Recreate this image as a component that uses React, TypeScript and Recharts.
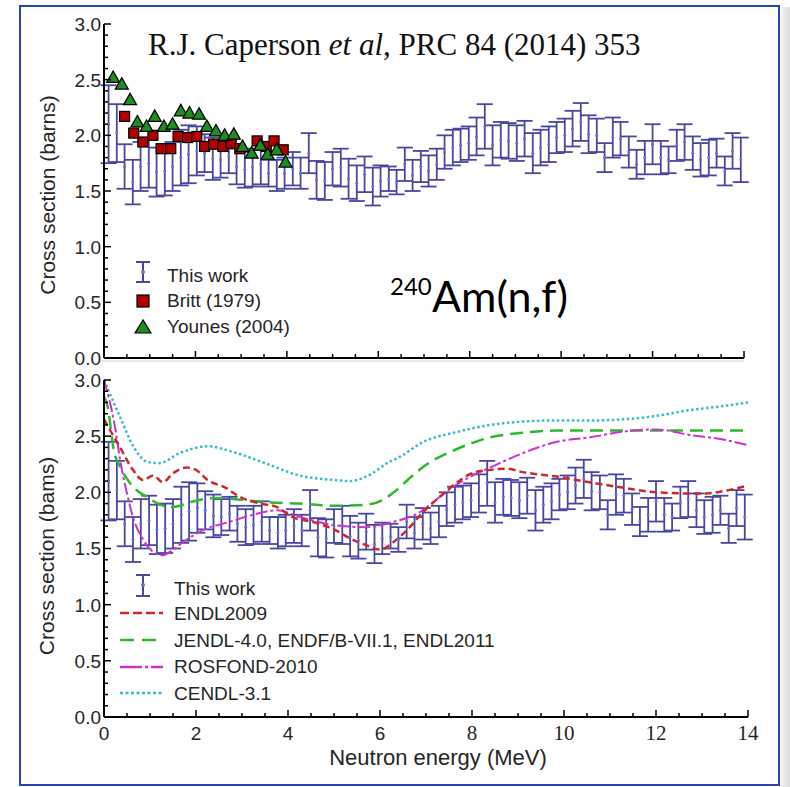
import { ComposedChart, ErrorBar, Line, Scatter, XAxis, YAxis } from "recharts";

// 240Am(n,f) cross section, this measurement (energy in MeV, sigma and 1-sigma error in barns)
const energy = [
    0.10, 0.28, 0.45, 0.63, 0.80, 0.98, 1.15, 1.33, 1.50, 1.68,
    1.85, 2.03, 2.20, 2.38, 2.55, 2.73, 2.90, 3.08, 3.25, 3.43,
    3.60, 3.78, 3.95, 4.13, 4.30, 4.48, 4.65, 4.83, 5.00, 5.18,
    5.35, 5.53, 5.70, 5.88, 6.05, 6.23, 6.40, 6.58, 6.75, 6.93,
    7.10, 7.28, 7.45, 7.63, 7.80, 7.98, 8.15, 8.33, 8.50, 8.68,
    8.85, 9.03, 9.20, 9.38, 9.55, 9.73, 9.90, 10.08, 10.25, 10.43,
    10.60, 10.78, 10.95, 11.13, 11.30, 11.48, 11.65, 11.83, 12.00, 12.18,
    12.35, 12.53, 12.70, 12.88, 13.05, 13.23, 13.40, 13.58, 13.75, 13.93,
];
const sigma = [
    2.10, 2.02, 1.72, 1.58, 1.72, 1.75, 1.67, 1.68, 1.72, 1.80,
    1.83, 1.86, 1.84, 1.79, 1.78, 1.81, 1.72, 1.69, 1.71, 1.74,
    1.66, 1.64, 1.66, 1.70, 1.66, 1.84, 1.60, 1.59, 1.70, 1.71,
    1.61, 1.57, 1.65, 1.54, 1.59, 1.61, 1.58, 1.74, 1.64, 1.72,
    1.68, 1.74, 1.85, 1.89, 1.91, 1.93, 1.99, 2.08, 1.91, 1.96,
    1.95, 1.93, 1.97, 1.84, 1.89, 1.92, 1.98, 2.00, 2.06, 2.12,
    2.01, 2.00, 1.80, 1.98, 1.97, 1.85, 1.74, 1.80, 1.92, 1.80,
    1.78, 1.91, 1.94, 1.84, 1.78, 1.80, 1.84, 1.68, 1.86, 1.78,
];
const sigmaErr = [
    0.35, 0.26, 0.20, 0.20, 0.22, 0.22, 0.22, 0.22, 0.22, 0.25,
    0.26, 0.22, 0.17, 0.19, 0.16, 0.15, 0.16, 0.16, 0.17, 0.18,
    0.12, 0.14, 0.14, 0.15, 0.14, 0.18, 0.17, 0.17, 0.15, 0.17,
    0.18, 0.16, 0.16, 0.17, 0.14, 0.11, 0.11, 0.15, 0.14, 0.14,
    0.14, 0.14, 0.15, 0.16, 0.15, 0.15, 0.17, 0.20, 0.18, 0.16,
    0.16, 0.16, 0.16, 0.18, 0.16, 0.16, 0.14, 0.15, 0.16, 0.17,
    0.17, 0.15, 0.13, 0.18, 0.15, 0.14, 0.13, 0.15, 0.18, 0.15,
    0.12, 0.14, 0.16, 0.15, 0.15, 0.16, 0.13, 0.13, 0.16, 0.20,
];

// Britt (1979)
const brittE = [0.45, 0.65, 0.85, 1.07, 1.25, 1.46, 1.62, 1.83, 2.03, 2.20, 2.40, 2.60, 2.78, 2.97, 3.35, 3.55, 3.72, 3.92];
const brittV = [2.17, 2.02, 1.94, 2.00, 1.88, 1.88, 1.99, 1.98, 1.99, 1.90, 1.92, 1.90, 1.93, 1.88, 1.95, 1.90, 1.95, 1.87];

// Younes (2004)
const younesE = [0.20, 0.39, 0.57, 0.73, 0.93, 1.11, 1.31, 1.50, 1.68, 1.87, 2.08, 2.25, 2.45, 2.64, 2.84, 3.03, 3.23, 3.42, 3.58, 3.78, 3.97];
const younesV = [2.52, 2.46, 2.32, 2.12, 2.08, 2.17, 2.08, 2.10, 2.22, 2.20, 2.19, 2.08, 2.04, 2.00, 2.01, 1.90, 1.84, 1.91, 1.83, 1.87, 1.76];

// evaluated libraries
const endlE = [0, 0.15, 0.35, 0.63, 0.85, 1.07, 1.28, 1.5, 1.8, 2.0, 2.25, 2.65, 2.95, 3.4, 3.75, 4.1, 4.6, 5.0, 5.35, 5.7, 6.0, 6.3, 6.6, 6.95, 7.3, 7.65, 8.0, 8.4, 8.75, 9.1, 9.85, 10.55, 11.3, 12.0, 12.75, 13.1, 13.45, 14.0];
const endlV = [2.65, 2.54, 2.40, 2.20, 2.11, 2.15, 2.09, 2.17, 2.22, 2.20, 2.11, 2.04, 1.96, 1.90, 1.87, 1.78, 1.73, 1.67, 1.59, 1.53, 1.49, 1.56, 1.67, 1.83, 1.96, 2.08, 2.17, 2.20, 2.21, 2.18, 2.14, 2.09, 2.04, 2.00, 1.99, 1.99, 2.01, 2.06];

const jendlE = [0, 0.07, 0.22, 0.35, 0.63, 0.93, 1.22, 1.5, 1.95, 2.4, 2.8, 3.55, 4.25, 5.0, 5.7, 6.05, 6.3, 6.6, 6.95, 7.7, 8.4, 9.1, 9.85, 10.6, 12.0, 14.0];
const jendlV = [2.85, 2.78, 2.36, 2.23, 2.05, 1.96, 1.89, 1.87, 1.92, 1.95, 1.94, 1.91, 1.90, 1.88, 1.89, 1.93, 2.00, 2.11, 2.23, 2.39, 2.49, 2.53, 2.55, 2.55, 2.55, 2.55];

const rosfondE = [0, 0.24, 0.35, 0.5, 0.63, 0.85, 1.07, 1.28, 1.5, 1.8, 2.24, 2.67, 3.24, 3.76, 4.26, 4.98, 5.72, 6.22, 6.93, 7.3, 7.67, 8.02, 8.39, 9.11, 9.85, 10.57, 11.28, 12.02, 12.74, 13.46, 14.0];
const rosfondV = [3.0, 2.58, 2.29, 1.99, 1.78, 1.58, 1.47, 1.44, 1.49, 1.58, 1.68, 1.73, 1.80, 1.84, 1.78, 1.71, 1.69, 1.73, 1.84, 1.96, 2.07, 2.15, 2.22, 2.35, 2.45, 2.49, 2.54, 2.56, 2.51, 2.47, 2.42];

const cendlE = [0, 0.35, 0.65, 0.95, 1.2, 1.65, 2.25, 2.8, 3.5, 4.25, 5.0, 5.35, 5.7, 6.2, 6.45, 6.9, 7.7, 8.4, 9.1, 9.8, 10.6, 11.3, 12.0, 12.7, 13.5, 14.0];
const cendlV = [3.0, 2.67, 2.40, 2.27, 2.26, 2.35, 2.41, 2.36, 2.26, 2.15, 2.11, 2.10, 2.14, 2.27, 2.32, 2.44, 2.54, 2.60, 2.63, 2.64, 2.64, 2.65, 2.68, 2.73, 2.77, 2.80];

const yTicks = [
    0, 0.1, 0.2, 0.3, 0.4, 0.5, 0.6, 0.7, 0.8, 0.9, 1.0, 1.1, 1.2, 1.3, 1.4, 1.5,
    1.6, 1.7, 1.8, 1.9, 2.0, 2.1, 2.2, 2.3, 2.4, 2.5, 2.6, 2.7, 2.8, 2.9, 3.0,
];
const xTicks = [
    0, 0.5, 1, 1.5, 2, 2.5, 3, 3.5, 4, 4.5, 5, 5.5, 6, 6.5, 7, 7.5, 8, 8.5, 9, 9.5,
    10, 10.5, 11, 11.5, 12, 12.5, 13, 13.5, 14,
];

const SANS = "'Liberation Sans', Arial, sans-serif";
const SERIF = "'Liberation Serif', 'Times New Roman', serif";
const TEXT = "#262626";
const BAR = "#4848a2";

const pairs = (es: number[], vs: number[]) => es.map((e, i) => ({ e, v: vs[i] }));
const thisWork = energy.map((e, i) => ({ e, v: sigma[i], err: sigmaErr[i] }));
const britt = pairs(brittE, brittV);
const younes = pairs(younesE, younesV);
const endl = pairs(endlE, endlV);
const jendl = pairs(jendlE, jendlV);
const rosfond = pairs(rosfondE, rosfondV);
const cendl = pairs(cendlE, cendlV);

const isMajor = (v: number, step: number) => Math.abs(v / step - Math.round(v / step)) < 1e-6;

// ticks point into the plot, Mathematica style
function YTick({ x, y, payload }: any) {
    const v = payload.value;
    const major = isMajor(v, 0.5);
    return (
        <g>
            <line x1={x} x2={x + (major ? 7 : 4)} y1={y} y2={y} stroke="#000" strokeWidth={1.5} />
            {major && (
                <text x={x - 3} y={y} dy="0.36em" textAnchor="end" fontSize={19} fontFamily={SANS} fill={TEXT}>
                    {v.toFixed(1)}
                </text>
            )}
        </g>
    );
}

function XTick({ x, y, payload, showLabels }: any) {
    const v = payload.value;
    const major = isMajor(v, 2);
    const serif = v >= 8;
    return (
        <g>
            <line x1={x} x2={x} y1={y} y2={y - (major ? 7 : 4)} stroke="#000" strokeWidth={1.5} />
            {major && showLabels && (
                <text x={x} y={y + 23} textAnchor="middle" fontSize={serif ? 21 : 19} fontFamily={serif ? SERIF : SANS} fill={TEXT}>
                    {v}
                </text>
            )}
        </g>
    );
}

const Dot = ({ cx, cy }: any) => <circle cx={cx} cy={cy} r={1.5} fill="#7070bc" />;
const Square = ({ cx, cy }: any) => <rect x={cx - 5} y={cy - 5} width={10} height={10} fill="#b00000" stroke="#000" strokeWidth={1.2} />;
const Triangle = ({ cx, cy }: any) => (
    <polygon points={`${cx},${cy - 6.5} ${cx - 6.5},${cy + 5} ${cx + 6.5},${cy + 5}`} fill="#1e8c1e" stroke="#000" strokeWidth={1.2} />
);

const axisLine = { stroke: "#000", strokeWidth: 2 };

export default function App() {
    const xAxisProps = {
        type: "number" as const,
        dataKey: "e",
        domain: [0, 14],
        ticks: xTicks,
        interval: 0 as const,
        tickSize: 0,
        tickMargin: 0,
        tickLine: false,
        axisLine,
        allowDataOverflow: true,
    };
    const yAxisProps = {
        type: "number" as const,
        dataKey: "v",
        domain: [0, 3],
        ticks: yTicks,
        interval: 0 as const,
        tickSize: 0,
        tickMargin: 0,
        tickLine: false,
        axisLine,
        width: 104,
        allowDataOverflow: true,
        tick: <YTick />,
    };

    return (
        <div style={{ position: "absolute", left: 0, top: 0, width: 790, height: 787, background: "#fff", overflow: "hidden" }}>
            {/* page frame */}
            <div style={{ position: "absolute", left: 19, top: 5, width: 761, height: 781, border: "2px solid #2444b8", boxSizing: "border-box" }} />
            <div style={{ position: "absolute", left: 781, top: 7, width: 9, height: 780, background: "linear-gradient(to right, #f4f4f4, #dcdcdc)" }} />

            {/* upper panel: measurement vs earlier data */}
            <div style={{ position: "absolute", left: 0, top: 0 }}>
                <ComposedChart width={790} height={400} margin={{ top: 24, right: 46, bottom: 12, left: 0 }}>
                    <XAxis {...xAxisProps} height={30} tick={<XTick showLabels={false} />} />
                    <YAxis {...yAxisProps} />
                    <Scatter data={thisWork} fill={BAR} shape={<Dot />} isAnimationActive={false}>
                        <ErrorBar dataKey="err" direction="y" width={8} stroke={BAR} strokeWidth={1.8} />
                    </Scatter>
                    <Scatter data={britt} shape={<Square />} isAnimationActive={false} />
                    <Scatter data={younes} shape={<Triangle />} isAnimationActive={false} />
                </ComposedChart>
            </div>

            {/* lower panel: measurement vs evaluations */}
            <div style={{ position: "absolute", left: 0, top: 360 }}>
                <ComposedChart width={790} height={420} margin={{ top: 20, right: 42, bottom: 23, left: 0 }}>
                    <XAxis {...xAxisProps} height={40} tick={<XTick showLabels={true} />} />
                    <YAxis {...yAxisProps} />
                    <Scatter data={thisWork} fill={BAR} shape={<Dot />} isAnimationActive={false}>
                        <ErrorBar dataKey="err" direction="y" width={8} stroke={BAR} strokeWidth={1.8} />
                    </Scatter>
                    <Line data={cendl} dataKey="v" type="monotone" stroke="#3cbcc6" strokeWidth={2.5} strokeDasharray="2.5 2.5" dot={false} isAnimationActive={false} />
                    <Line data={jendl} dataKey="v" type="monotone" stroke="#2db82d" strokeWidth={2.5} strokeDasharray="13 7" dot={false} isAnimationActive={false} />
                    <Line data={rosfond} dataKey="v" type="monotone" stroke="#cc33cc" strokeWidth={2} strokeDasharray="12 3 3 3" dot={false} isAnimationActive={false} />
                    <Line data={endl} dataKey="v" type="monotone" stroke="#cc2a2a" strokeWidth={2.5} strokeDasharray="7 4" dot={false} isAnimationActive={false} />
                </ComposedChart>
            </div>

            {/* titles, axis titles and legends */}
            <svg width={790} height={787} style={{ position: "absolute", left: 0, top: 0, pointerEvents: "none" }}>
                <line x1={100} x2={744} y1={361} y2={361} stroke="#d4d4d4" strokeWidth={1} />

                <text x={148} y={55} fontFamily={SERIF} fontSize={31} fill="#111">
                    R.J. Caperson <tspan fontStyle="italic">et al</tspan>, PRC 84 (2014) 353
                </text>

                <text x={390} y={295} fontFamily="Lato, 'Noto Sans', sans-serif" fontSize={24} fill="#000">240</text>
                <text x={432} y={312} fontFamily="Lato, 'Noto Sans', sans-serif" fontSize={43} fill="#000">Am(n,f)</text>

                <text transform="translate(55,195) rotate(-90)" textAnchor="middle" fontFamily={SANS} fontSize={21} fill={TEXT}>
                    Cross section (barns)
                </text>
                <text transform="translate(54,556) rotate(-90)" textAnchor="middle" fontFamily={SANS} fontSize={21} fill={TEXT}>
                    Cross section (bams)
                </text>
                <text x={438} y={765} textAnchor="middle" fontFamily={SANS} fontSize={22} fill={TEXT}>
                    Neutron energy (MeV)
                </text>

                {/* upper legend */}
                <g stroke={BAR} strokeWidth={2}>
                    <line x1={143} x2={143} y1={262} y2={282} />
                    <line x1={136} x2={150} y1={262} y2={262} />
                    <line x1={136} x2={150} y1={282} y2={282} />
                </g>
                <circle cx={143} cy={272} r={2} fill="#7070bc" />
                <rect x={137} y={295} width={12} height={12} fill="#b00000" stroke="#000" strokeWidth={1.2} />
                <polygon points="143,320 135,333 151,333" fill="#1e8c1e" stroke="#000" strokeWidth={1.2} />
                <g fontFamily={SANS} fontSize={19} fill={TEXT}>
                    <text x={167} y={282}>This work</text>
                    <text x={167} y={307}>Britt (1979)</text>
                    <text x={167} y={333}>Younes (2004)</text>
                </g>

                {/* lower legend */}
                <g stroke={BAR} strokeWidth={2}>
                    <line x1={143} x2={143} y1={575} y2={596} />
                    <line x1={136} x2={150} y1={575} y2={575} />
                    <line x1={136} x2={150} y1={596} y2={596} />
                </g>
                <circle cx={143} cy={585} r={2} fill="#7070bc" />
                <line x1={120} x2={163} y1={613} y2={613} stroke="#cc2a2a" strokeWidth={2.5} strokeDasharray="9 4" />
                <line x1={120} x2={163} y1={640} y2={640} stroke="#2db82d" strokeWidth={2.5} strokeDasharray="14 8" />
                <line x1={120} x2={163} y1={667} y2={667} stroke="#cc33cc" strokeWidth={2.5} strokeDasharray="22 3 3 3" />
                <line x1={120} x2={163} y1={693} y2={693} stroke="#3cbcc6" strokeWidth={2.5} strokeDasharray="3 2.5" />
                <g fontFamily={SANS} fontSize={19} fill={TEXT}>
                    <text x={174} y={595}>This work</text>
                    <text x={174} y={620}>ENDL2009</text>
                    <text x={174} y={647}>JENDL-4.0, ENDF/B-VII.1, ENDL2011</text>
                    <text x={174} y={673}>ROSFOND-2010</text>
                    <text x={174} y={700}>CENDL-3.1</text>
                </g>
            </svg>
        </div>
    );
}
